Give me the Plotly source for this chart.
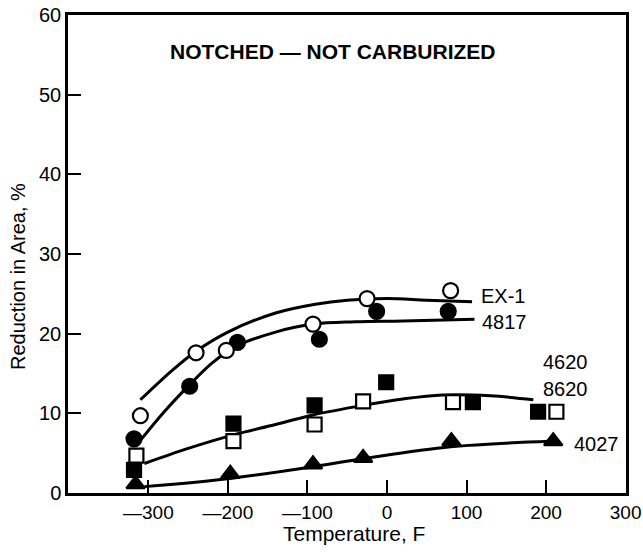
import plotly.graph_objects as go

# ---- measured data points ----
ex1_x = [-310, -240, -202, -93, -25, 80]
ex1_y = [9.7, 17.6, 17.9, 21.2, 24.4, 25.4]

a4817_x = [-318, -248, -188, -85, -13, 77]
a4817_y = [6.8, 13.4, 18.9, 19.3, 22.8, 22.8]

a4620_x = [-318, -193, -91, -1, 108, 190]
a4620_y = [2.9, 8.7, 11.0, 13.9, 11.4, 10.2]

a8620_x = [-315, -193, -91, -30, 83, 213]
a8620_y = [4.7, 6.5, 8.6, 11.5, 11.4, 10.2]

a4027_x = [-316, -197, -93, -30, 81, 209]
a4027_y = [1.1, 2.4, 3.6, 4.4, 6.5, 6.5]

# ---- hand-drawn trend curves ----
ex1_cx = [-310, -270, -240, -200, -140, -90, -50, 0, 50, 107]
ex1_cy = [11.7, 15.4, 17.8, 20.2, 22.6, 23.7, 24.2, 24.4, 24.2, 24.0]

a4817_cx = [-310, -280, -248, -220, -190, -140, -93, -40, 20, 110]
a4817_cy = [6.6, 10.2, 13.6, 16.3, 18.4, 20.2, 21.2, 21.5, 21.6, 21.8]

a46_cx = [-305, -250, -193, -140, -93, -30, 20, 70, 130, 184]
a46_cy = [3.7, 5.6, 7.3, 8.6, 9.8, 11.0, 11.8, 12.3, 12.2, 11.7]

a4027_cx = [-305, -200, -93, -30, 80, 205]
a4027_cy = [0.8, 1.8, 3.3, 4.3, 5.8, 6.5]

x_ticks = [-300, -200, -100, 0, 100, 200, 300]
x_tick_text = ["\u2014300", "\u2014200", "\u2014100", "0", "100", "200", "300"]
y_ticks = [0, 10, 20, 30, 40, 50, 60]

series_labels = ["EX-1", "4817", "4620", "8620", "4027"]
label_x = [116, 117, 224, 224, 232]
label_y = [24.7, 21.5, 16.4, 13.1, 6.2]
label_anchor = ["left", "left", "center", "center", "left"]

FONT = "Liberation Sans, Arial, Helvetica, sans-serif"
LW = 3

fig = go.Figure()

for cx, cy in [(ex1_cx, ex1_cy), (a4817_cx, a4817_cy), (a46_cx, a46_cy), (a4027_cx, a4027_cy)]:
    fig.add_trace(go.Scatter(x=cx, y=cy, mode="lines",
                             line=dict(color="black", width=LW, shape="spline", smoothing=1.0),
                             showlegend=False, hoverinfo="skip"))

def pts(x, y, symbol, fill, size):
    fig.add_trace(go.Scatter(x=x, y=y, mode="markers",
                             marker=dict(symbol=symbol, size=size, color=fill,
                                         line=dict(color="black", width=2.2)),
                             showlegend=False))

pts(a4817_x, a4817_y, "circle", "black", 15)
pts(ex1_x, ex1_y, "circle", "white", 15)
pts(a4620_x, a4620_y, "square", "black", 14)
pts(a8620_x, a8620_y, "square", "white", 14)
pts(a4027_x, a4027_y, "triangle-up", "black", 16)

for t, lx, ly, an in zip(series_labels, label_x, label_y, label_anchor):
    fig.add_annotation(x=lx, y=ly, text=t, showarrow=False, xanchor=an, yanchor="middle",
                       font=dict(family=FONT, size=20, color="black"))

fig.add_annotation(x=0.475, y=0.9226, xref="paper", yref="paper",
                   text="<b>NOTCHED \u2014 NOT CARBURIZED</b>", showarrow=False,
                   xanchor="center", yanchor="middle",
                   font=dict(family=FONT, size=21, color="black"))

fig.add_annotation(x=-0.0896, y=0.452, xref="paper", yref="paper",
                   text="Reduction in Area, %", showarrow=False, textangle=-90,
                   xanchor="center", yanchor="middle",
                   font=dict(family=FONT, size=20, color="black"))

fig.add_annotation(x=0.5125, y=-0.0837, xref="paper", yref="paper",
                   text="Temperature, F", showarrow=False,
                   xanchor="center", yanchor="middle",
                   font=dict(family=FONT, size=21, color="black"))

fig.update_layout(
    width=643, height=554,
    margin=dict(l=68, r=17, t=15, b=61, autoexpand=False),
    paper_bgcolor="white", plot_bgcolor="white",
    font=dict(family=FONT, size=19, color="black"),
    xaxis=dict(range=[-401, 300.5], tickvals=x_ticks, ticktext=x_tick_text,
               ticks="inside", ticklen=13, tickwidth=1.8, tickcolor="black",
               showline=True, linecolor="black", linewidth=2.5, mirror=True,
               showgrid=False, zeroline=False, fixedrange=True, automargin=False,
               tickfont=dict(size=19)),
    yaxis=dict(range=[0, 60], tickvals=y_ticks,
               ticks="inside", ticklen=13, tickwidth=1.8, tickcolor="black",
               showline=True, linecolor="black", linewidth=2.5, mirror=True,
               showgrid=False, zeroline=False, fixedrange=True, automargin=False,
               tickfont=dict(size=20)),
)

fig.write_html("out.html")
